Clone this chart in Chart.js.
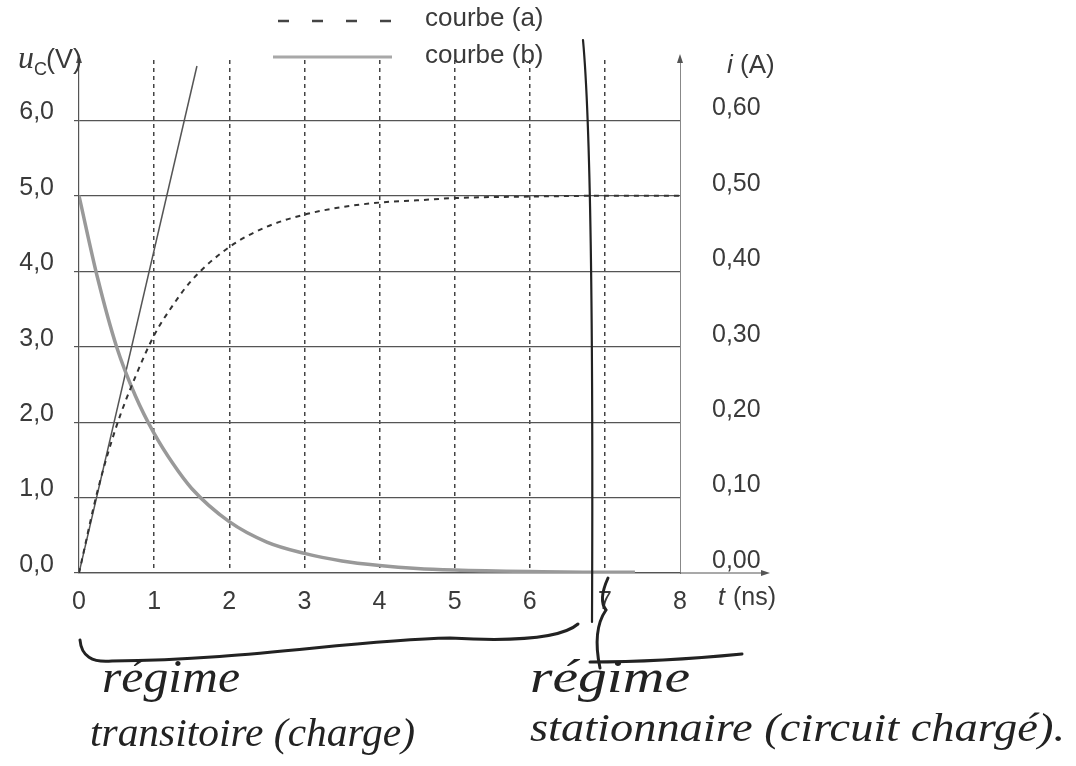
<!DOCTYPE html>
<html>
<head>
<meta charset="utf-8">
<script src="https://cdn.jsdelivr.net/npm/chart.js@4"></script>
<style>
  html, body { margin: 0; padding: 0; background: #fff; }
  canvas { display: block; }
</style>
</head>
<body>
<canvas id="chart" width="1076" height="766"></canvas>
<script>
// courbe (a) : tension u_C (V)
const tA = [0, 0.25, 0.5, 0.75, 1, 1.25, 1.5, 2, 2.5, 3, 3.5, 4, 4.5, 5, 6, 7, 8];
const uA = [0, 1.1, 1.95, 2.6, 3.15, 3.55, 3.88, 4.32, 4.59, 4.75, 4.85, 4.91, 4.94, 4.97, 4.99, 5.0, 5.0];

// courbe (b) : intensité i (A)
const tB = [0, 0.25, 0.5, 0.75, 1, 1.25, 1.5, 2, 2.5, 3, 3.5, 4, 4.5, 5, 6, 7, 7.4];
const iB = [0.50, 0.39, 0.30, 0.235, 0.185, 0.145, 0.112, 0.068, 0.041, 0.026, 0.016, 0.010, 0.006, 0.004, 0.002, 0.001, 0.001];

// tangente à l'origine (tracée à la main)
const tTan = [0, 1.57];
const uTan = [0, 6.72];

const xTicks = [0, 1, 2, 3, 4, 5, 6, 7, 8];

const font = { family: "'Liberation Sans', Arial, sans-serif", size: 25 };
const textColor = '#3a3a3a';

function pts(xs, ys) {
  return xs.map((x, k) => ({ x: x, y: ys[k] }));
}

// squeeze/stretch a handwritten line to the width it has on the scan
function fitText(ctx, text, x, y, width) {
  const w = ctx.measureText(text).width;
  ctx.save();
  ctx.translate(x, y);
  ctx.scale(width / w, 1);
  ctx.fillText(text, 0, 0);
  ctx.restore();
}

// axes arrows, legend, axis titles and the handwritten notes
const decor = {
  id: 'decor',
  afterDraw(chart) {
    const { ctx, chartArea: a } = chart;
    ctx.save();

    // axis arrows
    ctx.strokeStyle = '#555';
    ctx.fillStyle = '#555';
    ctx.lineWidth = 1.2;
    ctx.beginPath();
    ctx.moveTo(a.right, a.bottom);
    ctx.lineTo(764, a.bottom);
    ctx.stroke();
    const arrow = (x, y, dir) => {
      ctx.beginPath();
      if (dir === 'up') {
        ctx.moveTo(x, y - 6); ctx.lineTo(x - 3, y + 3); ctx.lineTo(x + 3, y + 3);
      } else {
        ctx.moveTo(x + 6, y); ctx.lineTo(x - 3, y - 3); ctx.lineTo(x - 3, y + 3);
      }
      ctx.closePath();
      ctx.fill();
    };
    arrow(a.left, a.top, 'up');
    arrow(a.right, a.top, 'up');
    arrow(764, a.bottom, 'right');

    // legend
    ctx.strokeStyle = '#444';
    ctx.lineWidth = 2.5;
    ctx.setLineDash([11, 23]);
    ctx.beginPath();
    ctx.moveTo(278, 21); ctx.lineTo(392, 21);
    ctx.stroke();
    ctx.setLineDash([]);
    ctx.strokeStyle = '#a8a8a8';
    ctx.lineWidth = 3;
    ctx.beginPath();
    ctx.moveTo(273, 57); ctx.lineTo(392, 57);
    ctx.stroke();

    ctx.fillStyle = textColor;
    ctx.textBaseline = 'middle';
    ctx.textAlign = 'left';
    ctx.font = "26px 'Liberation Sans', Arial, sans-serif";
    ctx.fillText('courbe (a)', 425, 19);
    ctx.fillText('courbe (b)', 425, 56);

    // axis titles
    ctx.font = "italic 32px 'Liberation Serif', serif";
    ctx.fillText('u', 18, 60);
    ctx.font = "18px 'Liberation Sans', Arial, sans-serif";
    ctx.fillText('C', 34, 70);
    ctx.font = "27px 'Liberation Sans', Arial, sans-serif";
    ctx.fillText('(V)', 46, 61);

    ctx.font = "italic 26px 'Liberation Sans', Arial, sans-serif";
    ctx.fillText('i', 727, 66);
    ctx.font = "26px 'Liberation Sans', Arial, sans-serif";
    ctx.fillText('(A)', 740, 66);

    ctx.font = "italic 25px 'Liberation Sans', Arial, sans-serif";
    ctx.fillText('t', 718, 598);
    ctx.font = "25px 'Liberation Sans', Arial, sans-serif";
    ctx.fillText('(ns)', 733, 598);

    // handwritten strokes
    ctx.strokeStyle = '#222';
    ctx.lineWidth = 2.2;
    ctx.lineCap = 'round';
    ctx.beginPath();
    ctx.moveTo(583, 40);
    ctx.quadraticCurveTo(594, 160, 592, 622);
    ctx.stroke();

    ctx.lineWidth = 3;
    ctx.beginPath();
    ctx.moveTo(80, 640);
    ctx.quadraticCurveTo(82, 664, 112, 661);
    ctx.bezierCurveTo(250, 660, 350, 640, 450, 638);
    ctx.quadraticCurveTo(555, 644, 578, 624);
    ctx.stroke();

    ctx.beginPath();
    ctx.moveTo(608, 578);
    ctx.quadraticCurveTo(598, 600, 606, 610);
    ctx.quadraticCurveTo(592, 630, 600, 668);
    ctx.stroke();
    ctx.beginPath();
    ctx.moveTo(590, 662);
    ctx.quadraticCurveTo(660, 662, 742, 654);
    ctx.stroke();

    // handwritten notes
    ctx.fillStyle = '#222';
    ctx.textBaseline = 'alphabetic';
    ctx.font = "italic 46px 'Liberation Serif', serif";
    fitText(ctx, 'régime', 102, 692, 138);
    fitText(ctx, 'régime', 530, 692, 160);
    ctx.font = "italic 40px 'Liberation Serif', serif";
    fitText(ctx, 'transitoire (charge)', 90, 746, 325);
    fitText(ctx, 'stationnaire (circuit chargé).', 530, 741, 535);

    ctx.restore();
  }
};

const ctx = document.querySelector('#chart').getContext('2d');
const chart = new Chart(ctx, {
  type: 'line',
  data: {
    datasets: [
      {
        label: 'courbe (a)',
        data: pts(tA, uA),
        yAxisID: 'y',
        borderColor: '#333',
        borderWidth: 2,
        borderDash: [5, 5],
        pointRadius: 0,
        cubicInterpolationMode: 'monotone'
      },
      {
        label: 'courbe (b)',
        data: pts(tB, iB),
        yAxisID: 'y1',
        borderColor: '#999',
        borderWidth: 3.5,
        pointRadius: 0,
        cubicInterpolationMode: 'monotone'
      },
      {
        label: 'tangente',
        data: pts(tTan, uTan),
        yAxisID: 'y',
        borderColor: '#555',
        borderWidth: 1.5,
        pointRadius: 0
      }
    ]
  },
  options: {
    responsive: false,
    animation: false,
    devicePixelRatio: 1,
    layout: { padding: { top: 60, left: 0, right: 0, bottom: 0 } },
    plugins: {
      legend: { display: false },
      tooltip: { enabled: false }
    },
    scales: {
      x: {
        type: 'linear',
        min: 0,
        max: 8,
        afterBuildTicks: (s) => { s.ticks = xTicks.map(v => ({ value: v })); },
        afterFit: (s) => { s.height = 193; },
        ticks: { font: font, color: textColor, padding: 14 },
        grid: {
          color: (c) => (c.tick && (c.tick.value === 0 || c.tick.value === 8)) ? 'rgba(0,0,0,0)' : '#444',
          lineWidth: 1.5,
          drawTicks: false
        },
        border: { display: true, color: '#555', width: 1.2, dash: [4, 4] }
      },
      y: {
        position: 'left',
        min: 0,
        max: 6.8,
        afterFit: (s) => { s.width = 79; },
        ticks: {
          stepSize: 1,
          includeBounds: false,
          font: font,
          color: textColor,
          padding: 20,
          labelOffset: -8,
          callback: (v) => v.toFixed(1).replace('.', ',')
        },
        grid: { color: '#555', lineWidth: 1.2, tickLength: 5 },
        border: { color: '#555', width: 1.2 }
      },
      y1: {
        position: 'right',
        min: 0,
        max: 0.68,
        afterFit: (s) => { s.width = 396; },
        ticks: {
          stepSize: 0.1,
          includeBounds: false,
          font: font,
          color: textColor,
          padding: 32,
          labelOffset: -12,
          callback: (v) => v.toFixed(2).replace('.', ',')
        },
        grid: { drawOnChartArea: false, drawTicks: false },
        border: { color: '#888', width: 1 }
      }
    }
  },
  plugins: [decor]
});
</script>
</body>
</html>
